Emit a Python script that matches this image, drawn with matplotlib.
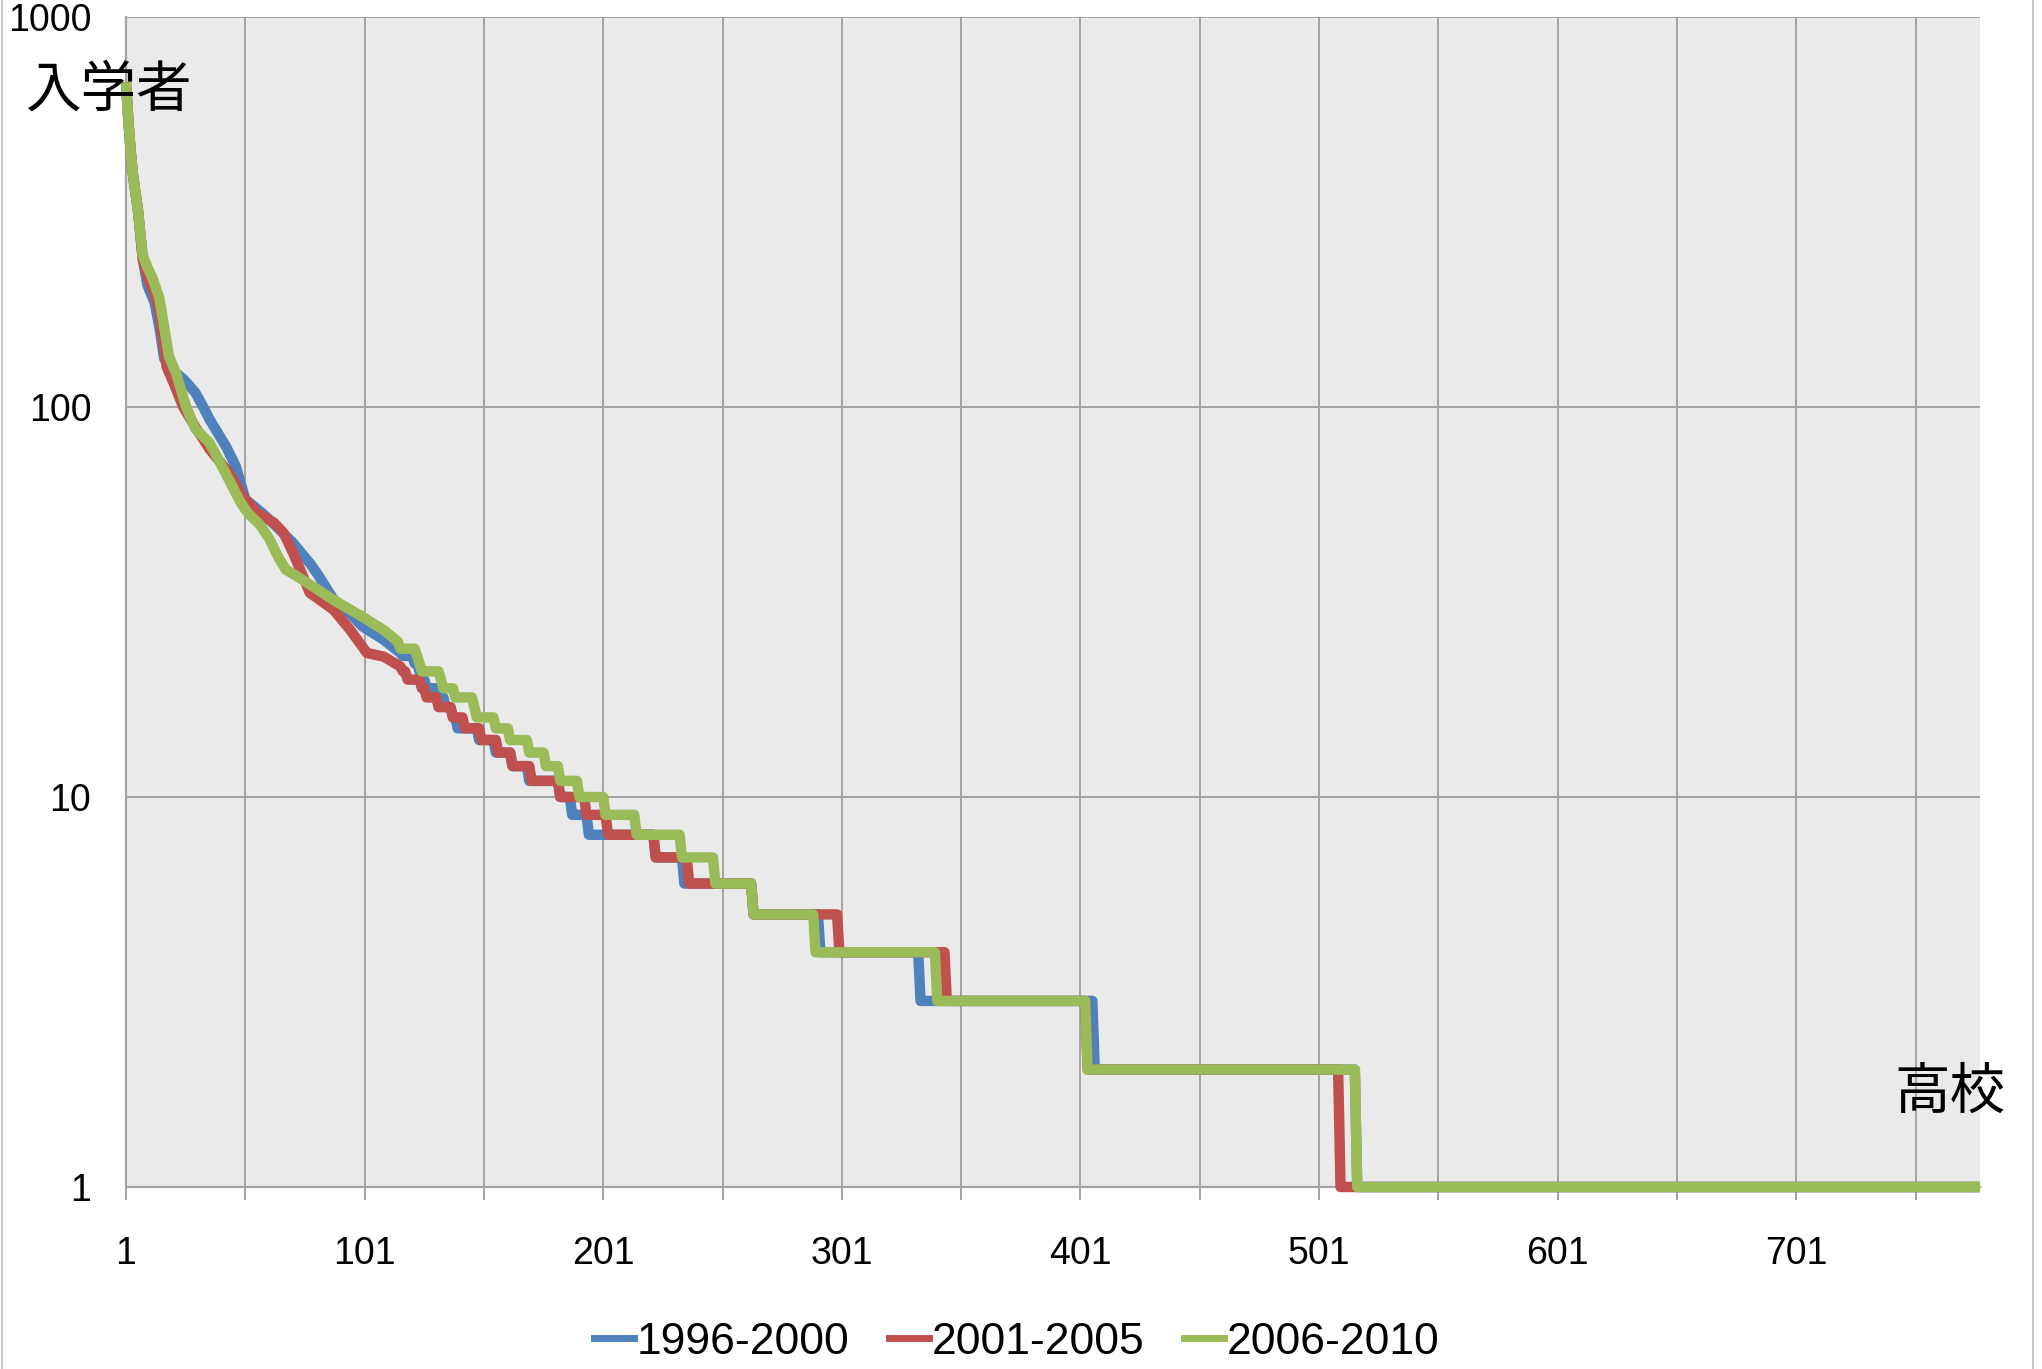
import numpy as np
import matplotlib
matplotlib.use("Agg")
import matplotlib.pyplot as plt
from matplotlib.lines import Line2D

series_names = ["1996-2000", "2001-2005", "2006-2010"]
colors = ["#4F81BD", "#C0504D", "#9BBB59"]
n_schools = 778

# upper part: rank -> entrants
head_rank_96 = [1, 2, 3, 4, 6, 8, 10, 13, 15, 17, 20, 25, 30, 33, 36, 43, 47, 51, 58, 64, 71, 78, 81, 88, 95, 100, 109, 116]
head_cnt_96 = [680, 540, 450, 390, 320, 240, 205, 185, 160, 133, 125, 118, 109, 101, 93, 79, 70.5, 58, 53.5, 49.4, 44.8, 39.8, 37.5, 32.1, 29.5, 27.4, 25.3, 23.4]
head_rank_01 = [1, 2, 3, 4, 6, 8, 10, 13, 15, 18, 21, 25, 30, 36, 44, 50, 56, 63, 67, 71, 74, 78, 88, 95, 102, 109, 116]
head_cnt_01 = [680, 540, 450, 390, 320, 240, 215, 195, 175, 127, 115, 100, 89, 78, 68, 59, 53.5, 50.5, 47.6, 42.3, 38.3, 33.4, 30.2, 26.8, 23.4, 22.9, 21.6]
head_rank_06 = [1, 2, 3, 4, 6, 8, 10, 12, 15, 17, 19, 22, 26, 30, 36, 42, 49, 52, 57, 61, 65, 68, 72, 77, 88, 100, 109, 115]
head_cnt_06 = [680, 540, 450, 390, 320, 245, 228, 215, 190, 160, 135, 122, 101, 88, 81, 69, 57, 53.5, 50, 46, 41, 38.3, 37, 35.4, 32, 29, 26.8, 25]

# lower part: integer counts and the last rank holding each count
tail_cnt_96 = list(range(23, 0, -1))
tail_end_96 = [121, 123, 124, 126, 131, 134, 137, 139, 148, 155, 162, 169, 182, 187, 194, 222, 234, 263, 291, 333, 406, 516, 778]
tail_cnt_01 = list(range(21, 0, -1))
tail_end_01 = [118, 124, 126, 131, 137, 142, 149, 156, 162, 170, 182, 193, 202, 222, 236, 263, 299, 344, 403, 509, 778]
tail_cnt_06 = list(range(24, 0, -1))
tail_end_06 = [122, 123, 124, 132, 133, 138, 146, 147, 155, 161, 169, 176, 182, 190, 201, 214, 233, 247, 263, 289, 340, 403, 516, 778]

x_ticks = [1, 101, 201, 301, 401, 501, 601, 701]
y_ticks = [1, 10, 100, 1000]


def build(head_r, head_c, tail_c, tail_e):
    runs = np.diff([head_r[-1]] + tail_e)
    x = np.concatenate([head_r, np.arange(head_r[-1] + 1, tail_e[-1] + 1)])
    y = np.concatenate([head_c, np.repeat(tail_c, runs)])
    return x, y


data = [build(head_rank_96, head_cnt_96, tail_cnt_96, tail_end_96),
        build(head_rank_01, head_cnt_01, tail_cnt_01, tail_end_01),
        build(head_rank_06, head_cnt_06, tail_cnt_06, tail_end_06)]

plt.rcParams['font.family'] = ['Liberation Sans', 'DejaVu Sans']
W, H = 2042, 1369
fig = plt.figure(figsize=(W / 100, H / 100), dpi=100)
ax = fig.add_axes([126 / W, 1 - 1187 / H, (1980 - 126) / W, (1187 - 17) / H])
ax.set_facecolor("#EAEAEA")

for (x, y), c, name in zip(data, colors, series_names):
    ax.plot(x, y, color=c, lw=7.5, label=name, solid_joinstyle='round',
            solid_capstyle='butt', clip_on=False, zorder=3)

ax.set_yscale('log')
ax.set_ylim(1, 1000)
ax.set_xlim(1, n_schools)
ax.set_yticks(y_ticks)
ax.set_yticklabels([str(v) for v in y_ticks])
ax.yaxis.set_minor_locator(matplotlib.ticker.NullLocator())
ax.set_xticks(np.arange(1, n_schools, 50))
ax.set_xticklabels([str(v) if v in x_ticks else "" for v in np.arange(1, n_schools, 50)])
ax.grid(True, color="#A3A3A3", lw=1.4, zorder=1)
ax.tick_params(axis='x', length=9, width=1.4, color="#A3A3A3", pad=26, labelsize=27)
ax.tick_params(axis='y', length=0, pad=25, labelsize=27)
for s in ('top', 'right'):
    ax.spines[s].set_visible(False)
for s in ('left', 'bottom'):
    ax.spines[s].set_color("#A3A3A3")
    ax.spines[s].set_linewidth(1.6)

cjk = ['Noto Sans CJK JP', 'DejaVu Sans']
fig.text(109 / W, 1 - 91 / H, "入学者", family=cjk, fontsize=40, ha='center', va='center')
fig.text(1950 / W, 1 - 1093 / H, "高校", family=cjk, fontsize=40, ha='center', va='center')

handles = [Line2D([], [], color=c, lw=5) for c in colors]
fig.legend(handles, series_names, loc='center', bbox_to_anchor=(0.498, 1 - 1342 / H),
           ncol=3, frameon=False, fontsize=32, handlelength=0.9, handletextpad=0.05,
           columnspacing=0.9, borderpad=0)

fig.add_artist(Line2D([2 / W, 2 / W], [0, 1], color="#C8C8C8", lw=1.5))
fig.add_artist(Line2D([2033 / W, 2033 / W], [0, 1], color="#C8C8C8", lw=1.5))

fig.savefig("out.png", dpi=100)
